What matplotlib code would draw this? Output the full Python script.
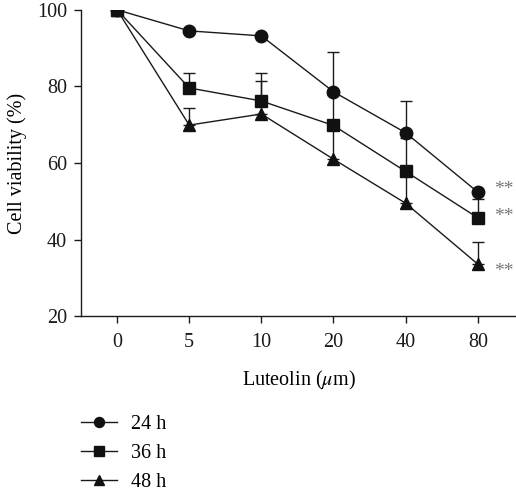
import matplotlib
matplotlib.use("Agg")
import matplotlib.pyplot as plt
import numpy as np

doses = ["0", "5", "10", "20", "40", "80"]
v24 = [100, 94.5, 93.2, 78.6, 67.9, 52.4]
v36 = [100, 79.6, 76.2, 69.8, 57.8, 45.7]
v48 = [100, 69.9, 72.8, 61.0, 49.5, 33.6]
# upper error (SD) only
e24 = [0, 0, 0, 10.4, 8.3, 0]
e36 = [0, 3.8, 7.4, 8.0, 8.7, 5.0]
e48 = [0, 4.5, 8.5, 8.5, 8.0, 5.8]
labels = ["24 h", "36 h", "48 h"]
stars = "**"

markers = ["o", "s", "^"]
star_dy = [2, 1, -5]  # vertical nudge (pt) of the significance marks

plt.rcParams["font.family"] = ["Liberation Serif", "DejaVu Serif"]
plt.rcParams["mathtext.fontset"] = "stix"
FS = 14.5
INK = "#1a1a1a"

fig = plt.figure(figsize=(5.16, 4.91), dpi=100)
ax = fig.add_axes([0.157, 0.356, 0.843, 0.624])
x = np.arange(len(doses))
handles = []
for label, vals, err, mk, dy in zip(labels, [v24, v36, v48], [e24, e36, e48], markers, star_dy):
    ax.errorbar(x, vals, yerr=[np.zeros(len(err)), err], fmt="none",
                ecolor=INK, elinewidth=1.0, capsize=4, capthick=1.0, zorder=2)
    h, = ax.plot(x, vals, color=INK, lw=1.0, marker=mk,
                 markersize=9 if mk != "^" else 8.5, markerfacecolor="#111111",
                 markeredgecolor="#111111", label=label, zorder=3)
    handles.append(h)
    ax.annotate(stars, (x[-1], vals[-1]), xytext=(11.5, dy), textcoords="offset points",
                ha="left", va="center", fontsize=14, color="#777777")

ax.set_xlim(-0.5, 5.53)
ax.set_ylim(20, 100)
ax.set_yticks([20, 40, 60, 80, 100])
ax.set_xticks(x)
ax.set_xticklabels(doses)
ax.spines["top"].set_visible(False)
ax.spines["right"].set_visible(False)
for s in ("left", "bottom"):
    ax.spines[s].set_linewidth(1.0)
    ax.spines[s].set_color(INK)
ax.tick_params(direction="out", length=5, width=1.0, labelsize=FS, color=INK,
               labelcolor=INK, pad=5)
ax.tick_params(axis="x", pad=7)
ax.set_ylabel("Cell viability (%)", fontsize=FS, labelpad=7)
ax.set_xlabel(r"Luteolin ($\mu$m)", fontsize=FS, labelpad=12)

fig.legend(handles=handles, loc="upper left", bbox_to_anchor=(0.157, 0.154),
           frameon=False, fontsize=FS, handlelength=1.8, handletextpad=0.7,
           labelspacing=0.48, borderpad=0, borderaxespad=0, markerscale=0.8)
fig.savefig("out.png", dpi=100)
